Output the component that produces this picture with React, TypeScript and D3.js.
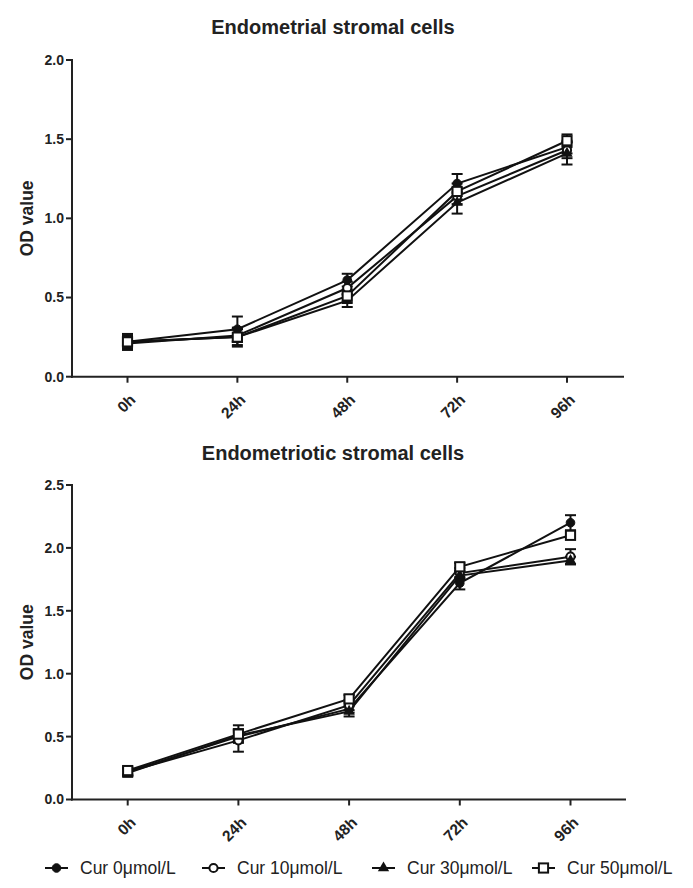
import React from "react";
import * as d3 from "d3";

const timeLabels = ["0h", "24h", "48h", "72h", "96h"];
const seriesNames = ["Cur 0μmol/L", "Cur 10μmol/L", "Cur 30μmol/L", "Cur 50μmol/L"];
const markerTypes = ["circleFilled", "circleOpen", "triangle", "squareOpen"];

// Top panel: Endometrial stromal cells
const topTitle = "Endometrial stromal cells";
const topTicks = [0, 0.5, 1.0, 1.5, 2.0];
const topCur0 = [0.22, 0.30, 0.61, 1.22, 1.45];
const topCur10 = [0.21, 0.26, 0.56, 1.14, 1.43];
const topCur30 = [0.22, 0.25, 0.48, 1.10, 1.41];
const topCur50 = [0.22, 0.25, 0.51, 1.17, 1.49];
const topErr0 = [0.04, 0.08, 0.04, 0.06, 0.04];
const topErr10 = [0.04, 0.04, 0.04, 0.05, 0.05];
const topErr30 = [0.04, 0.06, 0.04, 0.07, 0.07];
const topErr50 = [0.05, 0.05, 0.04, 0.05, 0.04];

// Bottom panel: Endometriotic stromal cells
const botTitle = "Endometriotic stromal cells";
const botTicks = [0, 0.5, 1.0, 1.5, 2.0, 2.5];
const botCur0 = [0.22, 0.50, 0.72, 1.72, 2.20];
const botCur10 = [0.22, 0.47, 0.75, 1.80, 1.93];
const botCur30 = [0.21, 0.51, 0.70, 1.78, 1.90];
const botCur50 = [0.23, 0.52, 0.80, 1.85, 2.10];
const botErr0 = [0.03, 0.04, 0.03, 0.05, 0.06];
const botErr10 = [0.03, 0.09, 0.04, 0.04, 0.06];
const botErr30 = [0.03, 0.04, 0.04, 0.03, 0.03];
const botErr50 = [0.03, 0.07, 0.03, 0.03, 0.02];

const FONT = "'Liberation Sans', Arial, Helvetica, sans-serif";

function Marker({ type, x, y }: { type: string; x: number; y: number }) {
  if (type === "circleFilled") return <circle cx={x} cy={y} r={4.3} fill="#111" stroke="#111" strokeWidth={1} />;
  if (type === "circleOpen") return <circle cx={x} cy={y} r={4.1} fill="#fff" stroke="#111" strokeWidth={2} />;
  if (type === "triangle")
    return <path d={d3.symbol(d3.symbolTriangle, 56)() as string} transform={`translate(${x},${y})`} fill="#111" />;
  return <rect x={x - 4.6} y={y - 4.6} width={9.2} height={9.2} fill="#fff" stroke="#111" strokeWidth={2} />;
}

function Panel({
  title, titleY, ticks, yMax, yTop, yBottom, xStart, xEnd, axisEnd, series, errors,
}: any) {
  const x = d3.scaleLinear().domain([0, timeLabels.length - 1]).range([xStart, xEnd]);
  const y = d3.scaleLinear().domain([0, yMax]).range([yBottom, yTop]);
  const axisX = 72;
  const line = d3.line<number>().x((_, i) => x(i)).y((v) => y(v));
  return (
    <g>
      <text x={333} y={titleY} textAnchor="middle" fontFamily={FONT} fontWeight="bold" fontSize={20} fill="#222">
        {title}
      </text>
      {/* y axis */}
      <line x1={axisX} x2={axisX} y1={yTop - 1} y2={yBottom + 1} stroke="#222" strokeWidth={2} />
      {ticks.map((t: number) => (
        <g key={t}>
          <line x1={axisX - 6} x2={axisX} y1={y(t)} y2={y(t)} stroke="#222" strokeWidth={2} />
          <text x={64} y={y(t)} dy="0.35em" textAnchor="end" fontFamily={FONT} fontWeight="bold" fontSize={14} fill="#222">
            {t.toFixed(1)}
          </text>
        </g>
      ))}
      <text
        transform={`translate(33,${(yTop + yBottom) / 2}) rotate(-90)`}
        textAnchor="middle" fontFamily={FONT} fontWeight="bold" fontSize={17.5} fill="#222">
        OD value
      </text>
      {/* x axis */}
      <line x1={axisX - 1} x2={axisEnd} y1={yBottom} y2={yBottom} stroke="#222" strokeWidth={2} />
      {timeLabels.map((lab, i) => (
        <g key={lab}>
          <line x1={x(i)} x2={x(i)} y1={yBottom} y2={yBottom + 6} stroke="#222" strokeWidth={2} />
          <text
            transform={`translate(${x(i) + 9},${yBottom + 24}) rotate(-45)`}
            textAnchor="end" fontFamily={FONT} fontWeight="bold" fontSize={15.5} fill="#222">
            {lab}
          </text>
        </g>
      ))}
      {/* error bars */}
      {series.map((vals: number[], s: number) =>
        vals.map((v, i) => {
          const e = errors[s][i];
          const cx = x(i);
          return (
            <g key={`e${s}-${i}`} stroke="#111" strokeWidth={2}>
              <line x1={cx} x2={cx} y1={y(v - e)} y2={y(v + e)} />
              <line x1={cx - 5.5} x2={cx + 5.5} y1={y(v + e)} y2={y(v + e)} />
              <line x1={cx - 5.5} x2={cx + 5.5} y1={y(v - e)} y2={y(v - e)} />
            </g>
          );
        })
      )}
      {/* lines */}
      {series.map((vals: number[], s: number) => (
        <path key={`l${s}`} d={line(vals) as string} fill="none" stroke="#111" strokeWidth={2} />
      ))}
      {/* markers */}
      {series.map((vals: number[], s: number) =>
        vals.map((v, i) => <Marker key={`m${s}-${i}`} type={markerTypes[s]} x={x(i)} y={y(v)} />)
      )}
    </g>
  );
}

const legendLineX = [45, 202, 372, 532];

export default function App() {
  return (
    <svg width={693} height={888} style={{ display: "block", position: "absolute", left: 0, top: 0 }}>
      <rect width={693} height={888} fill="#fff" />
      <Panel
        title={topTitle} titleY={34} ticks={topTicks} yMax={2.0} yTop={60} yBottom={376.7}
        xStart={127.5} xEnd={567} axisEnd={624}
        series={[topCur0, topCur10, topCur30, topCur50]}
        errors={[topErr0, topErr10, topErr30, topErr50]}
      />
      <Panel
        title={botTitle} titleY={460} ticks={botTicks} yMax={2.5} yTop={485} yBottom={799.5}
        xStart={127.7} xEnd={570.5} axisEnd={626}
        series={[botCur0, botCur10, botCur30, botCur50]}
        errors={[botErr0, botErr10, botErr30, botErr50]}
      />
      {seriesNames.map((name, i) => {
        const lx = legendLineX[i];
        return (
          <g key={name}>
            <line x1={lx} x2={lx + 23} y1={868} y2={868} stroke="#111" strokeWidth={2} />
            <Marker type={markerTypes[i]} x={lx + 11.5} y={868} />
            <text x={lx + 35} y={868} dy="0.36em" fontFamily={FONT} fontSize={17.5} fill="#222">
              {name}
            </text>
          </g>
        );
      })}
    </svg>
  );
}
